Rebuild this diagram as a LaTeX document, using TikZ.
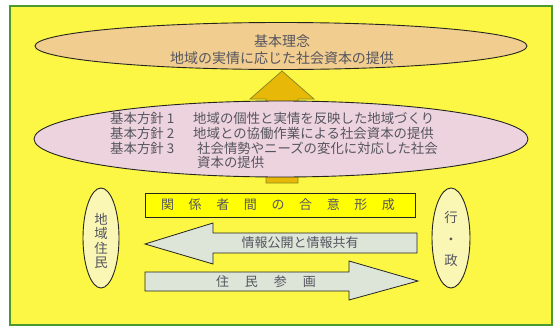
\documentclass[tikz,border=0pt]{standalone}
\usepackage{fontspec}
\setmainfont{Noto Sans CJK JP}
\usetikzlibrary{shapes.geometric}
\definecolor{bgyellow}{HTML}{FBF744}
\definecolor{framegreen}{HTML}{4A9A30}
\definecolor{peach}{HTML}{F1CD90}
\definecolor{pinkfill}{HTML}{EDD3DE}
\definecolor{goldfill}{HTML}{E8B808}
\definecolor{goldedge}{HTML}{8A8A20}
\definecolor{boxyellow}{HTML}{FFFF00}
\definecolor{arrowfill}{HTML}{DDE5D8}
\definecolor{sidefill}{HTML}{FAF6B4}
\definecolor{txtgrey}{HTML}{55555F}
\definecolor{edge}{HTML}{252520}
\begin{document}
\begin{tikzpicture}[x=1pt,y=-1pt,
  bigell/.style={ellipse, draw=edge, line width=0.9pt, inner sep=0pt},
  sideell/.style={ellipse, draw=edge, line width=0.9pt, fill=sidefill, inner sep=0pt},
  txt/.style={text=txtgrey, inner sep=0pt, font=\fontsize{13.4}{14.5}\selectfont},
  flowarrow/.style={draw=edge, line width=0.8pt, fill=arrowfill}]
\useasboundingbox (0,0) rectangle (555,327);
\fill[white] (0,0) rectangle (555,327);
\draw[framegreen, line width=2pt, fill=bgyellow] (10,6) rectangle (552,325);

% up arrow
\draw[goldedge, line width=0.8pt, fill=goldfill]
  (266,183) -- (266,99) -- (250,99) -- (282,71) -- (314,99) -- (298,99) -- (298,183) -- cycle;

% top ellipse
\node[bigell, fill=peach, minimum width=492pt, minimum height=47pt] (vision) at (281,46) {};
\node[txt, align=center, font=\fontsize{14}{17}\selectfont] (visiontext) at (282,50)
  {基本理念\\地域の実情に応じた社会資本の提供};

% pink ellipse
\node[bigell, fill=pinkfill, minimum width=494pt, minimum height=76pt] (policy) at (281,139) {};
\node[txt, anchor=west] (l1) at (110,118) {基本方針 1};
\node[txt, anchor=west] (l2) at (110,133) {基本方針 2};
\node[txt, anchor=west] (l3) at (110,148) {基本方針 3};
\node[txt, anchor=west] (c1) at (193,118) {地域の個性と実情を反映した地域づくり};
\node[txt, anchor=west] (c2) at (193,133) {地域との協働作業による社会資本の提供};
\node[txt, anchor=west] (c3) at (197,148) {社会情勢やニーズの変化に対応した社会};
\node[txt, anchor=west] (c4) at (197,162) {資本の提供};

% consensus box
\node[draw=edge, line width=0.8pt, fill=boxyellow, minimum width=270pt, minimum height=24pt, inner sep=0pt] (consensus) at (280,205) {};
\node[txt, font=\fontsize{13}{14}\selectfont] (consensustext) at (278,205)
  {\makebox[234pt]{関\hfill 係\hfill 者\hfill 間\hfill の\hfill 合\hfill 意\hfill 形\hfill 成}};

% left arrow
\draw[flowarrow] (145,244) -- (213,223) -- (213,233) -- (417,233) -- (417,253) -- (213,253) -- (213,264) -- cycle;
\node[txt, font=\fontsize{13}{14}\selectfont] (infotext) at (300,243) {情報公開と情報共有};

% right arrow
\draw[flowarrow] (145,272) -- (349,272) -- (349,261) -- (418,281) -- (349,300) -- (349,291) -- (145,291) -- cycle;
\node[txt, font=\fontsize{13}{14}\selectfont] (parttext) at (266,282)
  {\makebox[100pt]{住\hfill 民\hfill 参\hfill 画}};

% side ellipses
\node[sideell, minimum width=36pt, minimum height=100pt] (residents) at (101,238) {};
\node[txt, align=center, font=\fontsize{13.4}{14.5}\selectfont] (residentstext) at (101,241) {地\\域\\住\\民};
\node[sideell, minimum width=38pt, minimum height=100pt] (admin) at (451,238) {};
\node[txt, align=center, font=\fontsize{13.4}{21.5}\selectfont] (admintext) at (451,239) {行\\・\\政};
\end{tikzpicture}
\end{document}
